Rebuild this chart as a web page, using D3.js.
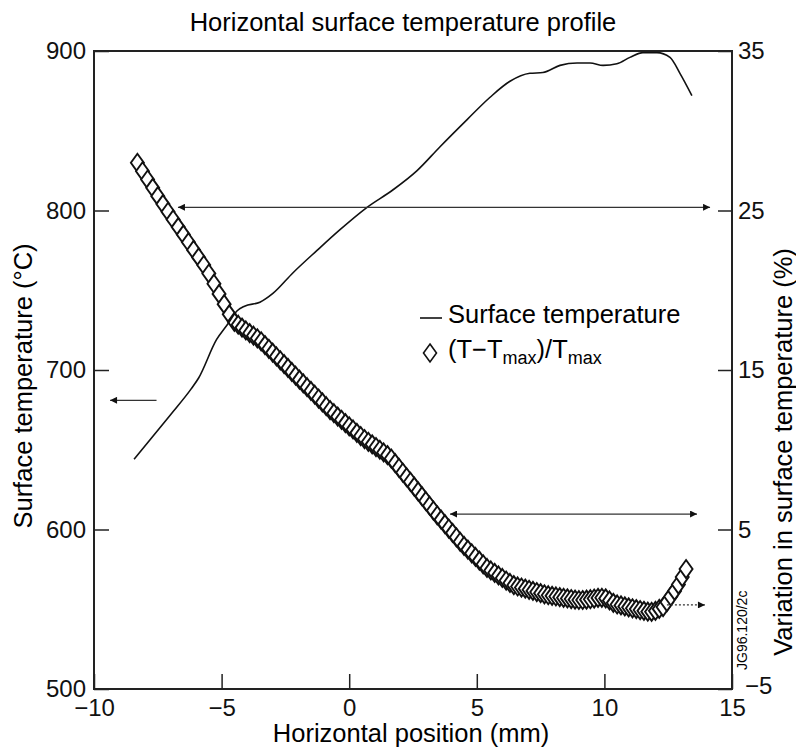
<!DOCTYPE html>
<html>
<head>
<meta charset="utf-8">
<script src="https://cdn.jsdelivr.net/npm/d3@7"></script>
<style>
  body { margin: 0; background: #fff; }
  svg { display: block; font-family: "Liberation Sans", Arial, Helvetica, sans-serif; }
</style>
</head>
<body>
<svg id="chart" width="796" height="750"></svg>
<script>
// surface temperature (left axis, deg C) vs horizontal position (mm)
const tempX = [-8.43, -7.0, -6.2, -5.9, -5.2, -4.75, -4.4, -4.1, -3.5, -2.99, -2.20, -1.26, -0.36, 0.70, 1.72, 2.66, 3.56, 4.62, 5.52, 6.30, 7.08, 7.59, 8.26, 8.93, 9.44, 9.95, 10.49, 11.00, 11.51, 12.06, 12.57, 12.96, 13.43];
const tempY = [644, 672, 688, 695, 719, 729, 737, 740, 742.5, 748, 761, 775, 788, 802, 813, 825, 840, 857, 871, 881, 886, 886.5, 891, 892.5, 892.5, 891, 892, 896, 899, 899, 896, 886, 872];

// (T - Tmax)/Tmax (right axis, %)
const varX = [-8.3, -8.1, -7.9, -7.7, -7.5, -7.3, -7.1, -6.9, -6.7, -6.5, -6.3, -6.1, -5.9, -5.7, -5.5, -5.3, -5.1, -4.9, -4.7, -4.5,
  -4.35, -4.2, -4.05, -3.9, -3.75, -3.6, -3.45, -3.3, -3.15, -3.0, -2.85, -2.7, -2.55, -2.4, -2.25, -2.1, -1.95, -1.8, -1.65, -1.5,
  -1.35, -1.2, -1.05, -0.9, -0.75, -0.6, -0.45, -0.3, -0.15, 0.0, 0.15, 0.3, 0.45, 0.6, 0.75, 0.9, 1.05, 1.2, 1.35, 1.5,
  1.65, 1.8, 1.95, 2.1, 2.25, 2.4, 2.55, 2.7, 2.85, 3.0, 3.15, 3.3, 3.45, 3.6, 3.75, 3.9, 4.05, 4.2, 4.35, 4.5,
  4.65, 4.8, 4.95, 5.1, 5.25, 5.4, 5.55, 5.7, 5.85, 6.0, 6.15, 6.3, 6.45, 6.6, 6.75, 6.9, 7.05, 7.2, 7.35, 7.5,
  7.65, 7.8, 7.95, 8.1, 8.25, 8.4, 8.55, 8.7, 8.85, 9.0, 9.15, 9.3, 9.45, 9.6, 9.75, 9.9, 10.05, 10.2, 10.35, 10.5,
  10.65, 10.8, 10.95, 11.1, 11.25, 11.4, 11.55, 11.7, 11.85, 12.0, 12.15, 12.3, 12.45, 12.6, 12.75, 12.9, 13.05, 13.2];
const varY = [27.99, 27.46, 26.94, 26.42, 25.90, 25.40, 24.92, 24.44, 23.96, 23.49, 23.01, 22.53, 22.06, 21.58, 21.05, 20.41, 19.77, 19.13, 18.49, 18.02,
  17.84, 17.66, 17.48, 17.31, 17.15, 16.99, 16.80, 16.56, 16.33, 16.09, 15.85, 15.61, 15.37, 15.13, 14.88, 14.64, 14.40, 14.16, 13.92, 13.69,
  13.45, 13.21, 12.97, 12.73, 12.49, 12.29, 12.08, 11.88, 11.67, 11.47, 11.27, 11.06, 10.86, 10.67, 10.50, 10.34, 10.17, 10.00, 9.83, 9.66,
  9.45, 9.16, 8.87, 8.57, 8.28, 7.99, 7.69, 7.39, 7.09, 6.79, 6.49, 6.19, 5.89, 5.62, 5.34, 5.06, 4.79, 4.51, 4.23, 3.97,
  3.74, 3.51, 3.28, 3.05, 2.82, 2.59, 2.43, 2.28, 2.12, 1.96, 1.80, 1.65, 1.51, 1.43, 1.36, 1.29, 1.22, 1.15, 1.08, 1.01,
  0.94, 0.88, 0.84, 0.80, 0.76, 0.72, 0.68, 0.64, 0.60, 0.58, 0.58, 0.60, 0.63, 0.67, 0.71, 0.72, 0.68, 0.55, 0.40, 0.30,
  0.24, 0.18, 0.12, 0.06, 0.01, -0.05, -0.10, -0.15, -0.16, -0.10, 0.02, 0.14, 0.45, 0.80, 1.15, 1.55, 2.02, 2.52];

const xTicks = [-10, -5, 0, 5, 10, 15];
const leftTicks = [500, 600, 700, 800, 900];
const rightTicks = [-5, 5, 15, 25, 35];

// annotation arrows: x1 -> x2 at level y, on the given axis
const arrows = [
  { axis: 'left', y: 681, x1: -7.55, x2: -9.37, head1: false, head2: true, dash: null },
  { axis: 'right', y: 25.2, x1: -6.71, x2: 14.14, head1: true, head2: true, dash: null },
  { axis: 'right', y: 5.97, x1: 3.95, x2: 13.63, head1: true, head2: true, dash: null },
  { axis: 'right', y: 0.27, x1: 12.45, x2: 13.94, head1: false, head2: true, dash: '2,2' }
];

const svg = d3.select('#chart');
const plotL = 94, plotR = 732, plotT = 51, plotB = 689;

const x = d3.scaleLinear().domain([-10, 15]).range([plotL, plotR]);
const yL = d3.scaleLinear().domain([500, 900]).range([plotB, plotT]);
const yR = d3.scaleLinear().domain([-5, 35]).range([plotB, plotT]);

svg.append('defs').append('marker')
  .attr('id', 'head')
  .attr('viewBox', '0 0 10 10')
  .attr('refX', 10).attr('refY', 5)
  .attr('markerWidth', 9).attr('markerHeight', 7)
  .attr('markerUnits', 'userSpaceOnUse')
  .attr('orient', 'auto-start-reverse')
  .append('path').attr('d', 'M0,0L10,5L0,10Z').attr('fill', '#111');

// frame
svg.append('rect')
  .attr('x', plotL).attr('y', plotT)
  .attr('width', plotR - plotL).attr('height', plotB - plotT)
  .attr('fill', 'none').attr('stroke', '#222').attr('stroke-width', 2);

const fontSize = 24;
const labelSize = 25.5;

const gx = svg.append('g').attr('transform', `translate(0,${plotB})`)
  .call(d3.axisBottom(x).tickValues(xTicks).tickSizeInner(-15).tickSizeOuter(0).tickPadding(10));
const gl = svg.append('g').attr('transform', `translate(${plotL},0)`)
  .call(d3.axisLeft(yL).tickValues(leftTicks).tickSizeInner(-15).tickSizeOuter(0).tickPadding(8));
const gr = svg.append('g').attr('transform', `translate(${plotR},0)`)
  .call(d3.axisRight(yR).tickValues(rightTicks).tickSizeInner(-14).tickSizeOuter(0).tickPadding(6));

[gx, gl, gr].forEach(g => {
  g.select('.domain').remove();
  g.selectAll('line').attr('stroke', '#222').attr('stroke-width', 1.5);
  g.selectAll('text').attr('font-size', fontSize).attr('fill', '#111')
    .attr('font-family', '"Liberation Sans", Arial, Helvetica, sans-serif');
});
// the -5 label on the right axis sits a little lower and to the right
gr.selectAll('.tick').filter(d => d === -5).select('text').attr('x', 13).attr('dy', '0.2em');

// diamonds
const varData = varX.map((v, i) => [v, varY[i]]);
const diamond = 'M0,-9L6.5,0L0,9L-6.5,0Z';
svg.append('g').selectAll('path')
  .data(varData)
  .enter()
  .append('path')
  .attr('d', diamond)
  .attr('transform', d => `translate(${x(d[0])},${yR(d[1])})`)
  .attr('fill', '#fff')
  .attr('stroke', '#111')
  .attr('stroke-width', 1.9);

// temperature line
const tempData = tempX.map((v, i) => [v, tempY[i]]);
svg.append('path')
  .datum(tempData)
  .attr('fill', 'none')
  .attr('stroke', '#111')
  .attr('stroke-width', 1.6)
  .attr('d', d3.line().x(d => x(d[0])).y(d => yL(d[1])).curve(d3.curveMonotoneX));

// arrows
svg.append('g').selectAll('line')
  .data(arrows)
  .enter()
  .append('line')
  .attr('x1', d => x(d.x1)).attr('x2', d => x(d.x2))
  .attr('y1', d => (d.axis === 'left' ? yL : yR)(d.y))
  .attr('y2', d => (d.axis === 'left' ? yL : yR)(d.y))
  .attr('stroke', '#333').attr('stroke-width', 1.2)
  .attr('stroke-dasharray', d => d.dash)
  .attr('marker-start', d => d.head1 ? 'url(#head)' : null)
  .attr('marker-end', d => d.head2 ? 'url(#head)' : null);

// title and axis labels
svg.append('text')
  .attr('x', 403).attr('y', 31)
  .attr('text-anchor', 'middle')
  .attr('font-size', labelSize)
  .text('Horizontal surface temperature profile');

svg.append('text')
  .attr('x', 411).attr('y', 742)
  .attr('text-anchor', 'middle')
  .attr('font-size', labelSize)
  .text('Horizontal position (mm)');

svg.append('text')
  .attr('transform', 'translate(32,386) rotate(-90)')
  .attr('text-anchor', 'middle')
  .attr('font-size', labelSize)
  .text('Surface temperature (°C)');

svg.append('text')
  .attr('transform', 'translate(792,452) rotate(-90)')
  .attr('text-anchor', 'middle')
  .attr('font-size', labelSize)
  .text('Variation in surface temperature (%)');

svg.append('text')
  .attr('transform', 'translate(747,670) rotate(-90)')
  .attr('font-size', 14)
  .text('JG96.120/2c');

// legend
const lg = svg.append('g');
lg.append('line').attr('x1', 420).attr('x2', 442).attr('y1', 318).attr('y2', 318)
  .attr('stroke', '#111').attr('stroke-width', 1.6);
lg.append('text').attr('x', 448).attr('y', 323).attr('font-size', labelSize).text('Surface temperature');
lg.append('path').attr('d', diamond).attr('transform', 'translate(430,353)')
  .attr('fill', '#fff').attr('stroke', '#111').attr('stroke-width', 1.6);
const lt = lg.append('text').attr('x', 448).attr('y', 358).attr('font-size', labelSize);
lt.append('tspan').text('(T\u2212T');
lt.append('tspan').attr('font-size', 18).attr('dy', 6).text('max');
lt.append('tspan').attr('dy', -6).text(')/T');
lt.append('tspan').attr('font-size', 18).attr('dy', 6).text('max');
</script>
</body>
</html>
